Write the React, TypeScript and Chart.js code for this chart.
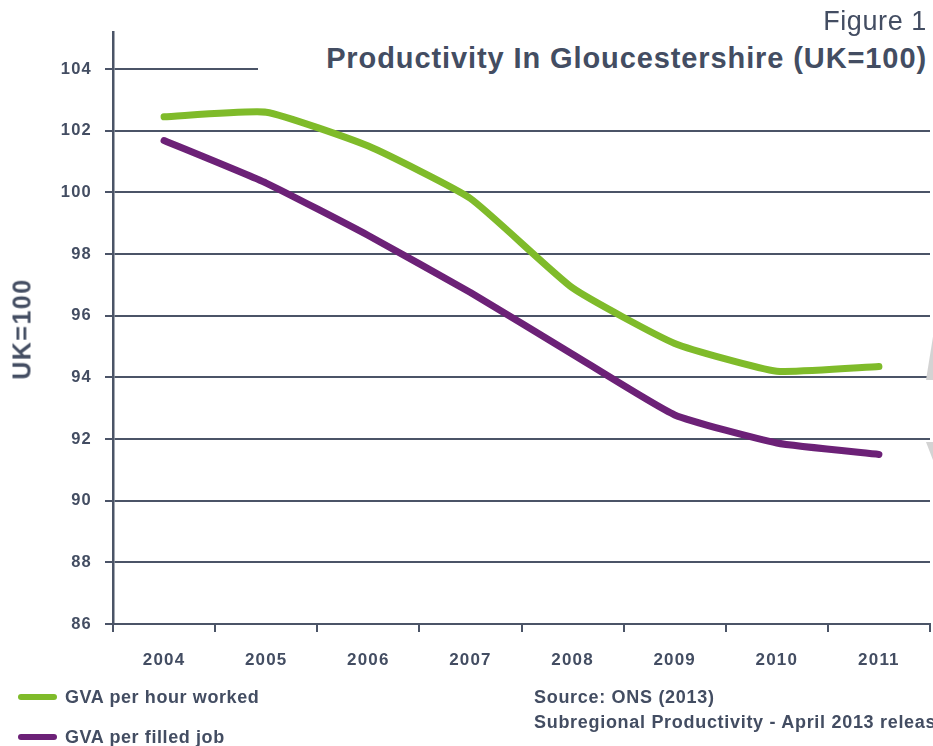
import React, { useEffect, useRef } from "react";
import { Chart, registerables } from "chart.js";

Chart.register(...registerables);

const categories = ["2004", "2005", "2006", "2007", "2008", "2009", "2010", "2011"];
const gvaPerHour = [102.45, 102.6, 101.5, 99.8, 96.9, 95.1, 94.2, 94.35];
const gvaPerJob = [101.68, 100.3, 98.6, 96.75, 94.75, 92.78, 91.87, 91.5];
const yTicks = [86, 88, 90, 92, 94, 96, 98, 100, 102, 104];

const GREEN = "#7fbb2a";
const PURPLE = "#6c2177";
const AXIS = "#4b5467";
const TEXT = "#434d62";
const FONT = "'Liberation Sans', Arial, Helvetica, sans-serif";

const spacingPlugin = {
  id: "letterSpacing",
  beforeDraw(chart: any) {
    (chart.ctx as any).letterSpacing = "1.2px";
  },
};

export default function App() {
  const ref = useRef<HTMLCanvasElement | null>(null);

  useEffect(() => {
    if (!ref.current) return;
    const chart = new Chart(ref.current, {
      type: "line",
      data: {
        labels: categories,
        datasets: [
          {
            label: "GVA per hour worked",
            data: gvaPerHour,
            borderColor: GREEN,
            borderWidth: 7,
            pointRadius: 0,
            tension: 0.15,
            borderCapStyle: "round",
            borderJoinStyle: "round",
          },
          {
            label: "GVA per filled job",
            data: gvaPerJob,
            borderColor: PURPLE,
            borderWidth: 7,
            pointRadius: 0,
            tension: 0.15,
            borderCapStyle: "round",
            borderJoinStyle: "round",
          },
        ],
      },
      options: {
        animation: false,
        responsive: false,
        maintainAspectRatio: false,
        layout: { padding: { left: 0, right: 3, top: 32, bottom: 72 } },
        plugins: { legend: { display: false }, tooltip: { enabled: false }, title: { display: false } },
        scales: {
          x: {
            type: "category",
            offset: true,
            grid: { offset: true, drawOnChartArea: false, tickLength: 8, color: AXIS, lineWidth: 2 },
            border: { color: AXIS, width: 2 },
            ticks: { color: TEXT, font: { family: FONT, size: 17, weight: "bold" }, padding: 18 },
            afterFit: (s: any) => { s.height = 50; },
          },
          y: {
            type: "linear",
            min: 86,
            max: 105.2,
            afterBuildTicks: (s: any) => { s.ticks = yTicks.map((v) => ({ value: v })); },
            grid: { color: AXIS, lineWidth: 2, tickLength: 8 },
            border: { color: AXIS, width: 2.5 },
            ticks: { color: TEXT, font: { family: FONT, size: 16.5, weight: "bold" }, padding: 13 },
            afterFit: (s: any) => { s.width = 113; },
          },
        },
      },
      plugins: [spacingPlugin],
    });
    return () => chart.destroy();
  }, []);

  const abs: React.CSSProperties = { position: "absolute", fontFamily: FONT, color: TEXT, whiteSpace: "nowrap" };

  return (
    <div style={{ position: "absolute", left: 0, top: 0, width: 933, height: 746, overflow: "hidden", background: "#fff" }}>
      <canvas ref={ref} width={933} height={746} style={{ position: "absolute", left: 0, top: 0, width: 933, height: 746 }} />
      <div style={{ position: "absolute", left: 258, top: 40, width: 700, height: 46, background: "#fff" }} />
      <div style={{ ...abs, right: 6, top: 6, fontSize: 27, letterSpacing: "0.6px" }}>Figure 1</div>
      <div style={{ ...abs, right: 6, top: 42, fontSize: 29, fontWeight: "bold", letterSpacing: "0.9px" }}>Productivity In Gloucestershire (UK=100)</div>
      <div style={{ ...abs, left: 22, top: 329, fontSize: 25, fontWeight: "bold", letterSpacing: "1.5px", transform: "translate(-50%,-50%) rotate(-90deg)" }}>UK=100</div>
      <div style={{ position: "absolute", left: 926, top: 318, width: 10, height: 62, background: "#d3d3d3", clipPath: "polygon(100% 0, 100% 100%, 0 100%)" }} />
      <div style={{ position: "absolute", left: 926, top: 442, width: 10, height: 26, background: "#d3d3d3", clipPath: "polygon(0 0, 100% 0, 100% 100%)" }} />
      <div style={{ position: "absolute", left: 18, top: 694, width: 39, height: 6, borderRadius: 3, background: GREEN }} />
      <div style={{ ...abs, left: 65, top: 687, fontSize: 18, fontWeight: "bold", letterSpacing: "0.6px" }}>GVA per hour worked</div>
      <div style={{ position: "absolute", left: 18, top: 734, width: 39, height: 6, borderRadius: 3, background: PURPLE }} />
      <div style={{ ...abs, left: 65, top: 727, fontSize: 18, fontWeight: "bold", letterSpacing: "0.6px" }}>GVA per filled job</div>
      <div style={{ ...abs, left: 534, top: 685, fontSize: 18, fontWeight: "bold", lineHeight: "25px", letterSpacing: "0.7px" }}>
        Source: ONS (2013)
        <br />
        Subregional Productivity - April 2013 release
      </div>
    </div>
  );
}
